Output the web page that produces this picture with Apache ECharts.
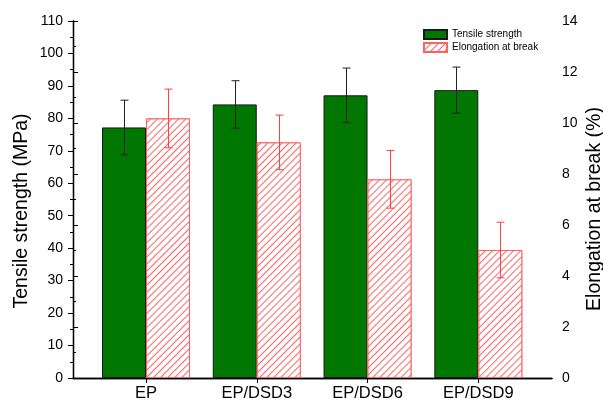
<!DOCTYPE html>
<html><head><meta charset="utf-8">
<script src="https://cdn.jsdelivr.net/npm/echarts@6/dist/echarts.min.js"></script>
<style>html,body{margin:0;padding:0;background:#fff}#c{width:603px;height:399px}</style>
</head><body><div id="c"></div>
<script>
const categories = ['EP', 'EP/DSD3', 'EP/DSD6', 'EP/DSD9'];
const tensile = [77.2, 84.3, 87.1, 88.7];
const tensileErr = [8.4, 7.3, 8.4, 7.1];
const elong = [10.18, 9.24, 7.79, 5.02];
const elongErr = [1.15, 1.07, 1.13, 1.09];

const FONT = '"Liberation Sans", Arial, sans-serif';
const BAR_W = 44;

const hatchDecal = {
  symbol: 'rect', symbolSize: 1,
  dashArrayX: [[1, 0]], dashArrayY: [1, 3.3],
  rotation: -Math.PI / 4,
  color: '#ff6262', backgroundColor: '#ffffff'
};

function errSeries(name, vals, errs, yIdx, offset, color) {
  return {
    name: name + ' err', type: 'custom', xAxisIndex: 2, yAxisIndex: yIdx, z: 10,
    silent: true,
    data: vals.map((v, i) => [i, v - errs[i], v + errs[i]]),
    renderItem: function (params, api) {
      const lo = api.coord([api.value(0), api.value(1)]);
      const hi = api.coord([api.value(0), api.value(2)]);
      const x = Math.round(lo[0] + offset) + 0.5, cap = 4;
      const st = { stroke: color, lineWidth: 1 };
      return { type: 'group', children: [
        { type: 'line', shape: { x1: x, y1: hi[1], x2: x, y2: lo[1] }, style: st },
        { type: 'line', shape: { x1: x - cap, y1: hi[1], x2: x + cap, y2: hi[1] }, style: st },
        { type: 'line', shape: { x1: x - cap, y1: lo[1], x2: x + cap, y2: lo[1] }, style: st }
      ]};
    }
  };
}

const chart = echarts.init(document.getElementById('c'), null, { renderer: 'canvas' });
const axisLineStyle = { color: '#000', width: 1.3 };
chart.setOption({
  animation: false,
  backgroundColor: '#fff',
  textStyle: { fontFamily: FONT },
  grid: [
    { left: 73, right: 51, top: 21, bottom: 21, outerBoundsMode: 'none', containLabel: false },
    { left: 90.6, right: 69.3, top: 21, bottom: 21, outerBoundsMode: 'none', containLabel: false }
  ],
  legend: {
    orient: 'vertical', left: 418, top: 24, itemWidth: 23, itemHeight: 9, itemGap: 2,
    icon: 'rect',
    data: ['Tensile strength', 'Elongation at break'],
    textStyle: { fontSize: 10, color: '#000', fontFamily: FONT }
  },
  graphic: [
    { type: 'text', x: 22, y: 211, rotation: Math.PI / 2,
      style: { text: 'Tensile strength (MPa)', font: '19.5px ' + FONT, fill: '#000',
               align: 'center', verticalAlign: 'middle' } },
    { type: 'text', x: 595, y: 209, rotation: Math.PI / 2,
      style: { text: 'Elongation at break (%)', font: '19.5px ' + FONT, fill: '#000',
               align: 'center', verticalAlign: 'middle' } }
  ],
  xAxis: [
    { gridIndex: 0, type: 'value', min: 0, max: 1, position: 'bottom',
      axisLine: { show: true, lineStyle: axisLineStyle }, axisTick: { show: false },
      axisLabel: { show: false }, splitLine: { show: false } },
    { gridIndex: 0, type: 'value', min: 0, max: 1, position: 'top',
      axisLine: { show: true, lineStyle: axisLineStyle }, axisTick: { show: false },
      axisLabel: { show: false }, splitLine: { show: false } },
    { gridIndex: 1, type: 'category', data: categories, position: 'bottom',
      axisLine: { show: false },
      axisTick: { show: true, alignWithLabel: true, length: 5, lineStyle: { color: '#000' } },
      axisLabel: { fontSize: 16.5, color: '#000', margin: 7, fontFamily: FONT },
      splitLine: { show: false } }
  ],
  yAxis: [
    { gridIndex: 0, type: 'value', min: 0, max: 110, interval: 10, position: 'left',
      axisLine: { show: true, lineStyle: axisLineStyle },
      axisTick: { show: true, length: 5, lineStyle: { color: '#000' } },
      minorTick: { show: true, splitNumber: 2, length: 3, lineStyle: { color: '#000' } },
      axisLabel: { fontSize: 14, color: '#000', margin: 10, fontFamily: FONT },
      splitLine: { show: false } },
    { gridIndex: 0, type: 'value', min: 0, max: 14, interval: 2, position: 'right',
      axisLine: { show: true, lineStyle: axisLineStyle },
      axisTick: { show: true, length: 5, lineStyle: { color: '#000' } },
      minorTick: { show: true, splitNumber: 2, length: 3, lineStyle: { color: '#000' } },
      axisLabel: { fontSize: 14, color: '#000', margin: 10, fontFamily: FONT },
      splitLine: { show: false } },
    { gridIndex: 1, type: 'value', min: 0, max: 110, show: false, splitLine: { show: false } },
    { gridIndex: 1, type: 'value', min: 0, max: 14, show: false, splitLine: { show: false } }
  ],
  series: [
    { name: 'Tensile strength', type: 'bar', xAxisIndex: 2, yAxisIndex: 2,
      barWidth: BAR_W, barGap: '0%', data: tensile,
      itemStyle: { color: '#007700', borderColor: '#1a1a1a', borderWidth: 1 } },
    { name: 'Elongation at break', type: 'bar', xAxisIndex: 2, yAxisIndex: 3,
      barWidth: BAR_W, barGap: '0%', data: elong,
      itemStyle: { color: '#ffffff', decal: hatchDecal, borderColor: '#ff6060', borderWidth: 1 } },
    errSeries('Tensile strength', tensile, tensileErr, 2, -BAR_W / 2, '#222'),
    errSeries('Elongation at break', elong, elongErr, 3, BAR_W / 2, '#ff4040')
  ]
});
</script></body></html>
